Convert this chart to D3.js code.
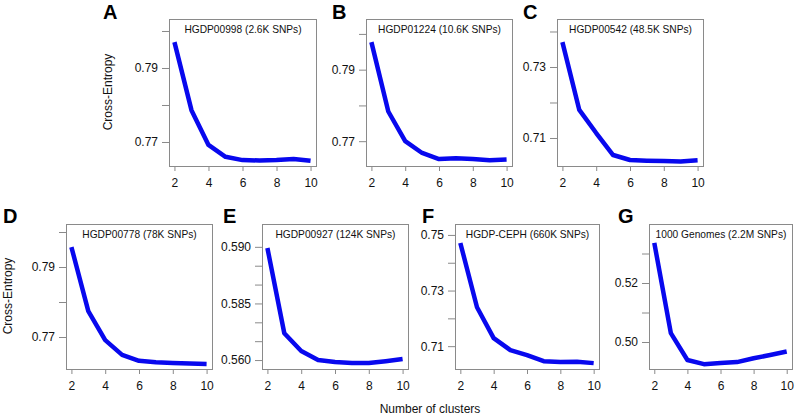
<!DOCTYPE html>
<html>
<head>
<meta charset="utf-8">
<script src="https://cdn.jsdelivr.net/npm/d3@7"></script>
<style>
  html, body { margin: 0; padding: 0; background: #fff; }
  svg { display: block; font-family: "Liberation Sans", Arial, sans-serif; }
</style>
</head>
<body>
<svg id="chart" width="797" height="418"></svg>
<script>
// ---------------- data ----------------
const clusters = [2, 3, 4, 5, 6, 7, 8, 9, 10];
const xTicks = [2, 4, 6, 8, 10];

const panelLetters = ["A", "B", "C", "D", "E", "F", "G"];
const panelTitles = [
  "HGDP00998 (2.6K SNPs)",
  "HGDP01224 (10.6K SNPs)",
  "HGDP00542 (48.5K SNPs)",
  "HGDP00778 (78K SNPs)",
  "HGDP00927 (124K SNPs)",
  "HGDP-CEPH (660K SNPs)",
  "1000 Genomes (2.2M SNPs)"
];

const valuesA = [0.7970, 0.7786, 0.7692, 0.7660, 0.7651, 0.7650, 0.7651, 0.7654, 0.7649];
const valuesB = [0.7977, 0.7783, 0.7700, 0.7667, 0.7650, 0.7652, 0.7650, 0.7647, 0.7649];
const valuesC = [0.7370, 0.7179, 0.7114, 0.7052, 0.7038, 0.7036, 0.7035, 0.7034, 0.7037];
const valuesD = [0.7957, 0.7774, 0.7691, 0.7649, 0.7632, 0.7628, 0.7626, 0.7624, 0.7623];
const valuesE = [0.5897, 0.5671, 0.5624, 0.5600, 0.5595, 0.5592, 0.5592, 0.5597, 0.5603];
const valuesF = [0.7471, 0.7240, 0.7129, 0.7086, 0.7068, 0.7046, 0.7043, 0.7044, 0.7039];
const valuesG = [0.5336, 0.5030, 0.4939, 0.4925, 0.4929, 0.4932, 0.4945, 0.4956, 0.4968];
const seriesValues = [valuesA, valuesB, valuesC, valuesD, valuesE, valuesF, valuesG];

// y-axis limits of each panel
const yLimits = [
  [0.76351, 0.80324],
  [0.76306, 0.80417],
  [0.70211, 0.74352],
  [0.76086, 0.80229],
  [0.55763, 0.59605],
  [0.70179, 0.75393],
  [0.49085, 0.54000]
];

// y ticks and their labels ("" = unlabeled tick)
const yTickValues = [
  [0.77, 0.78, 0.79, 0.80],
  [0.77, 0.78, 0.79, 0.80],
  [0.71, 0.72, 0.73, 0.74],
  [0.77, 0.78, 0.79, 0.80],
  [0.560, 0.565, 0.570, 0.575, 0.580, 0.585, 0.590],
  [0.71, 0.72, 0.73, 0.74, 0.75],
  [0.50, 0.51, 0.52, 0.53]
];
const yTickLabels = [
  ["0.77", "", "0.79", ""],
  ["0.77", "", "0.79", ""],
  ["0.71", "", "0.73", ""],
  ["0.77", "", "0.79", ""],
  ["0.560", "", "", "0.585", "", "", "0.590"],
  ["0.71", "", "0.73", "", "0.75"],
  ["0.50", "", "0.52", ""]
];

const yAxisTitle = "Cross-Entropy";
const xAxisTitle = "Number of clusters";

// ---------------- layout ----------------
const boxes = [
  { x: 169, y: 19, w: 147, h: 147, lx: 103, ly: 19 },
  { x: 366, y: 19, w: 146, h: 147, lx: 332, ly: 19 },
  { x: 557, y: 19, w: 146, h: 147, lx: 523, ly: 19 },
  { x: 66,  y: 224, w: 146, h: 145, lx: 3,   ly: 223 },
  { x: 262, y: 224, w: 146, h: 145, lx: 223, ly: 223 },
  { x: 455, y: 224, w: 144, h: 145, lx: 422, ly: 223 },
  { x: 649, y: 224, w: 143, h: 145, lx: 618, ly: 223 }
];

const boxColor = "#8a8a8a";
const lineColor = "#0808ee";
const textColor = "#111";

const svg = d3.select("#chart");

boxes.forEach((b, i) => {
  const ext = (d3.max(clusters) - d3.min(clusters)) * 0.04;
  const x = d3.scaleLinear()
    .domain([d3.min(clusters) - ext, d3.max(clusters) + ext])
    .range([b.x, b.x + b.w]);
  const y = d3.scaleLinear().domain(yLimits[i]).range([b.y + b.h, b.y]);

  const g = svg.append("g");

  // y axis (ticks on left of box)
  const yAxis = d3.axisLeft(y)
    .tickValues(yTickValues[i])
    .tickSize(7)
    .tickPadding(4)
    .tickFormat((d, j) => yTickLabels[i][j]);
  const ya = g.append("g").attr("transform", `translate(${b.x},0)`).call(yAxis);
  ya.select(".domain").remove();
  ya.selectAll(".tick line").attr("stroke", boxColor);
  ya.selectAll(".tick text")
    .attr("fill", textColor)
    .style("font-size", "12px")
    .style("font-family", "'Liberation Sans', Arial, sans-serif");

  // x axis
  const xAxis = d3.axisBottom(x)
    .tickValues(xTicks)
    .tickSize(5)
    .tickPadding(7)
    .tickFormat(d3.format("d"));
  const xa = g.append("g").attr("transform", `translate(0,${b.y + b.h})`).call(xAxis);
  xa.select(".domain").remove();
  xa.selectAll(".tick line").attr("stroke", boxColor);
  xa.selectAll(".tick text")
    .attr("fill", textColor)
    .style("font-size", "12px")
    .style("font-family", "'Liberation Sans', Arial, sans-serif");

  // box
  g.append("rect")
    .attr("x", b.x + 0.5).attr("y", b.y + 0.5)
    .attr("width", b.w).attr("height", b.h)
    .attr("fill", "none").attr("stroke", boxColor).attr("stroke-width", 1);

  // line
  const line = d3.line()
    .x((d, j) => x(clusters[j]))
    .y(d => y(d));
  g.append("path")
    .datum(seriesValues[i])
    .attr("d", line)
    .attr("fill", "none")
    .attr("stroke", lineColor)
    .attr("stroke-width", 4.5)
    .attr("stroke-linejoin", "round")
    .attr("stroke-linecap", "butt");

  // title inside the box
  g.append("text")
    .attr("x", b.x + b.w / 2 + 0.5)
    .attr("y", b.y + 14)
    .attr("text-anchor", "middle")
    .attr("fill", textColor)
    .style("font-size", "10.2px")
    .text(panelTitles[i]);

  // panel letter
  g.append("text")
    .attr("x", b.lx)
    .attr("y", b.ly)
    .attr("fill", "#000")
    .style("font-size", "20px")
    .style("font-weight", "bold")
    .text(panelLetters[i]);
});

// y axis titles
[[108, 92], [8, 296]].forEach(([cx, cy]) => {
  svg.append("text")
    .attr("transform", `translate(${cx + 4},${cy}) rotate(-90)`)
    .attr("text-anchor", "middle")
    .attr("fill", textColor)
    .style("font-size", "12px")
    .text(yAxisTitle);
});

// x axis title
svg.append("text")
  .attr("x", 430)
  .attr("y", 413)
  .attr("text-anchor", "middle")
  .attr("fill", textColor)
  .style("font-size", "12px")
  .text(xAxisTitle);
</script>
</body>
</html>
